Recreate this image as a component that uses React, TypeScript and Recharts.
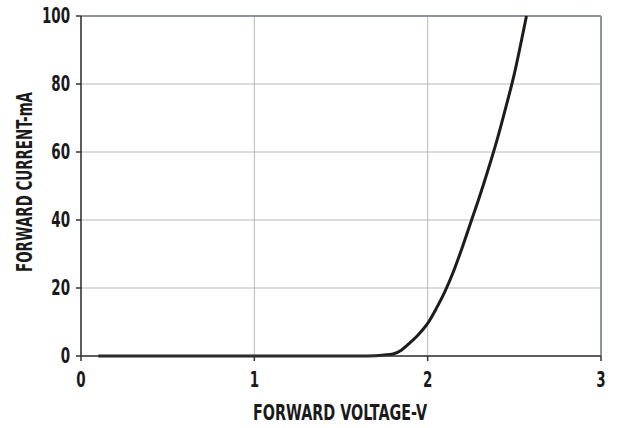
import React from "react";
import {
  CartesianGrid,
  Line,
  LineChart,
  ReferenceLine,
  XAxis,
  YAxis,
} from "recharts";

// forward voltage (V) vs forward current (mA)
const VOLTAGE = [0.1, 1.0, 1.6, 1.7, 1.75, 1.8, 1.85, 1.9, 1.95, 2.0, 2.05, 2.1, 2.15, 2.2, 2.25, 2.3, 2.35, 2.4, 2.45, 2.5, 2.55, 2.57];
const CURRENT = [0, 0, 0, 0.1, 0.3, 0.6, 1.8, 4.0, 6.5, 9.6, 14, 19, 25, 32, 39.5, 47, 55, 63.5, 73, 83, 95, 100];

const X_TICKS = [0, 1, 2, 3];
const Y_TICKS = [0, 20, 40, 60, 80, 100];

const X_TITLE = "FORWARD VOLTAGE-V";
const Y_TITLE = "FORWARD CURRENT-mA";

const FONT = "'DejaVu Sans Condensed', 'Liberation Sans Narrow', sans-serif";
const AXIS = "#333";
const GRID = "#b8b8b8";
const FRAME = "#8d949b";
const SQUEEZE = 0.68;

const data = VOLTAGE.map((v, i) => ({ v, i: CURRENT[i] }));

const textStyle = { fontFamily: FONT, fontWeight: 700, fontSize: 22, fill: "#1a1a1a" };

// condensed bold tick label, narrowed horizontally to look like the original face
function NarrowTick(props: any) {
  const { x, y, payload, textAnchor, side } = props;
  const dy = side === "x" ? 16 : -1;
  return (
    <g transform={`translate(${x},${y + dy}) scale(${SQUEEZE},1)`}>
      <text
        x={0}
        y={0}
        textAnchor={side === "x" ? "middle" : textAnchor}
        dominantBaseline="central"
        style={textStyle}
      >
        {payload.value}
      </text>
    </g>
  );
}

function YTitle(props: any) {
  const vb = props.viewBox || {};
  const cx = 24;
  const cy = (vb.y ?? 16) + (vb.height ?? 340) / 2 - 4;
  return (
    <text
      x={cx}
      y={cy}
      transform={`rotate(-90 ${cx} ${cy})`}
      textAnchor="middle"
      dominantBaseline="central"
      textLength={180}
      lengthAdjust="spacingAndGlyphs"
      style={textStyle}
    >
      {Y_TITLE}
    </text>
  );
}

function XTitle(props: any) {
  const vb = props.viewBox || {};
  const cx = (vb.x ?? 81) + (vb.width ?? 520) / 2 - 1;
  return (
    <text
      x={cx}
      y={412}
      textAnchor="middle"
      dominantBaseline="central"
      textLength={174}
      lengthAdjust="spacingAndGlyphs"
      style={textStyle}
    >
      {X_TITLE}
    </text>
  );
}

export default function App() {
  return (
    <div style={{ position: "absolute", left: 0, top: 0, width: 618, height: 428, background: "#fff" }}>
      <LineChart
        width={618}
        height={428}
        data={data}
        margin={{ top: 16, right: 17, bottom: 0, left: 21 }}
      >
        <CartesianGrid stroke={GRID} strokeWidth={1} />
        <XAxis
          dataKey="v"
          type="number"
          domain={[0, 3]}
          ticks={X_TICKS}
          height={72}
          stroke={AXIS}
          strokeWidth={1.5}
          tickSize={5}
          tick={<NarrowTick side="x" />}
          label={<XTitle />}
        />
        <YAxis
          type="number"
          domain={[0, 100]}
          ticks={Y_TICKS}
          width={60}
          stroke={AXIS}
          strokeWidth={1.5}
          tickSize={5}
          tickMargin={6}
          tick={<NarrowTick side="y" />}
          label={<YTitle />}
        />
        <ReferenceLine y={100} stroke={FRAME} strokeWidth={2} />
        <ReferenceLine x={3} stroke={FRAME} strokeWidth={2} />
        <Line
          dataKey="i"
          type="monotone"
          stroke="#1c1c1c"
          strokeWidth={3}
          dot={false}
          isAnimationActive={false}
        />
      </LineChart>
    </div>
  );
}
